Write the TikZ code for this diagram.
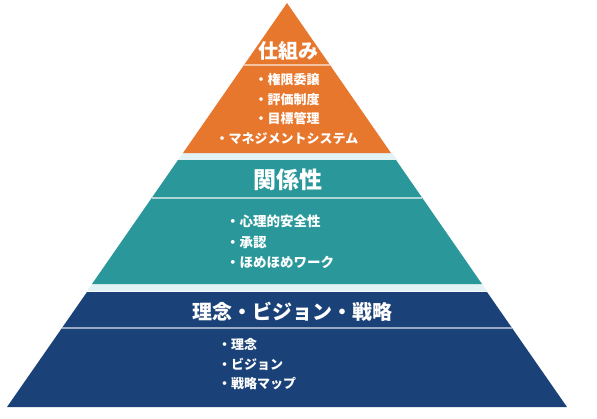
\documentclass[tikz,border=0pt]{standalone}
\usepackage{fontspec}
\newfontfamily\jpfont{Noto Sans CJK JP}
\usepackage{tikz}
\usetikzlibrary{positioning}
\definecolor{shikumi}{HTML}{E8772E}
\definecolor{kankei}{HTML}{2A989B}
\definecolor{rinen}{HTML}{1B4278}
\definecolor{gapblue}{HTML}{E2F2F5}

\begin{document}
\begin{tikzpicture}[
				x=1pt, y=-1pt,
				divider/.style={line width=1.4pt},
				title/.style={text=white, inner sep=0pt, font=\jpfont\bfseries\fontsize{20}{24}\selectfont},
				items/.style={text=white, inner sep=0pt, font=\jpfont\bfseries\fontsize{13}{19.5}\selectfont}]

			\useasboundingbox (0,0) rectangle (597,418);

			% pale gaps between the layers
			\fill[gapblue] (392,153) -- (398,161) -- (177,161) -- (183,153) -- cycle;
			\fill[gapblue] (482,284) -- (487,291) -- (87,291) -- (92,284) -- cycle;

			% top layer
			\fill[shikumi] (287,3) -- (391,153) -- (183,153) -- cycle;
			\draw[divider, shikumi!45!white] (244,65) -- (330,65);
			\node[title] (shikumi_title) at (288,51) {仕組み};
			\node[items, align=center] (shikumi_list) at (287,109) {・権限委譲\\・評価制度\\・目標管理\\・マネジメントシステム};

			% middle layer
			\fill[kankei] (178,160) -- (396,160) -- (482,284) -- (92,284) -- cycle;
			\draw[divider, kankei!40!white] (152,198) -- (422,198);
			\node[title, font=\jpfont\bfseries\fontsize{23}{27}\selectfont] (kankei_title) at (288,180) {関係性};
			\node[items, align=left, anchor=west, font=\jpfont\bfseries\fontsize{13.5}{20.5}\selectfont] (kankei_list) at (226,242) {・心理的安全性\\・承認\\・ほめほめワーク};

			% bottom layer
			\fill[rinen] (87,292) -- (487,292) -- (567,407) -- (7,407) -- cycle;
			\draw[divider, rinen!45!white] (62,328) -- (512,328);
			\node[title] (rinen_title) at (292,312) {理念・ビジョン・戦略};
			\node[items, align=left, anchor=west] (rinen_list) at (218,364.5) {・理念\\・ビジョン\\・戦略マップ};
		\end{tikzpicture}
\end{document}
